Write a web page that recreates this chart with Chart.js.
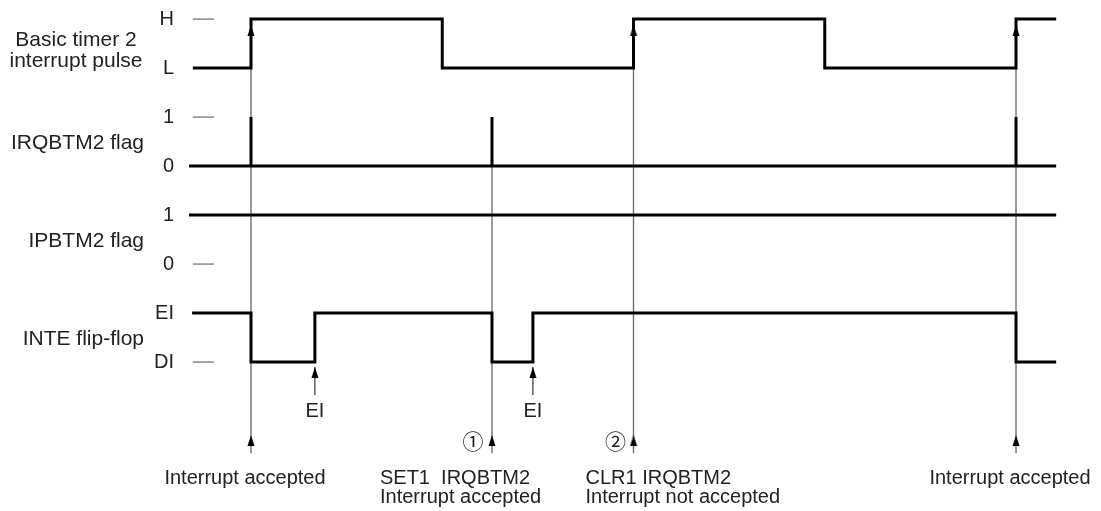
<!DOCTYPE html>
<html>
<head>
<meta charset="utf-8">
<script src="https://cdn.jsdelivr.net/npm/chart.js@4/dist/chart.umd.min.js"></script>
<style>
html, body { margin: 0; padding: 0; background: #fff; }
</style>
</head>
<body>
<canvas id="timing" width="1101" height="511"></canvas>
<script>
// time axis: one timer period = 10 units, t = 0 at the first accepted interrupt
var tStart = -1.52, tEnd = 21.05;

// Basic timer 2 interrupt pulse (0 = L, 1 = H)
var pulseT = [tStart, 0, 5, 10, 15, 20, tEnd];
var pulseV = [0, 1, 0, 1, 0, 1, 1];
// IRQBTM2 flag
var irqT = [-1.62, 0, 0, 6.3, 6.3, 20, 20, tEnd];
var irqV = [0, 1, 0, 1, 0, 1, 0, 0];
// IPBTM2 flag
var ipT = [-1.62, tEnd];
var ipV = [1, 1];
// INTE flip-flop (1 = EI, 0 = DI)
var inteT = [-1.54, 0, 1.67, 6.3, 7.37, 20, tEnd];
var inteV = [1, 0, 1, 0, 1, 0, 0];

// guide lines down to the notes, and EI instruction points
var guideT = [0, 6.3, 10, 20];
var guideTop = [10, 8, 10, 10];
var guideHead = [true, false, true, true];
var eiT = [1.67, 7.37];

// rows of the diagram
var rowNames = [['Basic timer 2', 'interrupt pulse'], ['IRQBTM2 flag'], ['IPBTM2 flag'], ['INTE flip-flop']];
var rowLow = [9, 7, 5, 3];
var hiLabels = ['H', '1', '1', 'EI'];
var loLabels = ['L', '0', '0', 'DI'];
var dashLevels = [10, 8, 5, 3];

var notes = [
  {t: 0, lines: ['Interrupt accepted'], align: 'center'},
  {t: 6.3, lines: ['SET1  IRQBTM2', 'Interrupt accepted'], align: 'right'},
  {t: 10, lines: ['CLR1 IRQBTM2', 'Interrupt not accepted'], align: 'left'},
  {t: 20, lines: ['Interrupt accepted'], align: 'center'}
];

function pts(ts, vs, row) {
  return ts.map(function (t, k) { return {x: t, y: rowLow[row] + vs[k]}; });
}

// small up-arrow head, tip at the image centre
var head = document.createElement('canvas');
head.width = 8; head.height = 24;
(function () {
  var c = head.getContext('2d');
  c.fillStyle = '#000';
  c.beginPath();
  c.moveTo(4, 12); c.lineTo(7.5, 23); c.lineTo(0.5, 23);
  c.closePath(); c.fill();
})();

var datasets = [];
var sig = [[pulseT, pulseV], [irqT, irqV], [ipT, ipV], [inteT, inteV]];
sig.forEach(function (s, r) {
  datasets.push({data: pts(s[0], s[1], r), borderColor: '#000', borderWidth: 3,
    stepped: true, pointRadius: 0, borderJoinStyle: 'miter', order: 0});
});
dashLevels.forEach(function (lv) {
  datasets.push({data: [{x: tStart, y: lv}, {x: -0.97, y: lv}], borderColor: '#888',
    borderWidth: 1.5, pointRadius: 0, order: 1});
});
guideT.forEach(function (t, k) {
  var d = [{x: t, y: guideTop[k]}], r = [0];
  if (guideHead[k]) { d.push({x: t, y: 9.88}); r.push(1); }
  d.push({x: t, y: 1.51}, {x: t, y: 1.14}); r.push(1, 0);
  datasets.push({data: d, borderColor: '#666', borderWidth: 1.3, pointStyle: head,
    pointRadius: r, order: 2});
});
eiT.forEach(function (t) {
  datasets.push({data: [{x: t, y: 2.33}, {x: t, y: 2.9}], borderColor: '#444', borderWidth: 1.3,
    pointStyle: head, pointRadius: [0, 1], order: 2});
});

var font = '"Liberation Sans", Arial, sans-serif';
var labels = {
  id: 'labels',
  afterDraw: function (chart) {
    var ctx = chart.ctx, xs = chart.scales.x, ys = chart.scales.y;
    ctx.save();
    ctx.fillStyle = '#222';
    ctx.textBaseline = 'middle';
    rowNames.forEach(function (nm, r) {
      var mid = ys.getPixelForValue(rowLow[r] + 0.5);
      ctx.font = '21px ' + font;
      if (nm.length === 2) {
        ctx.textAlign = 'center';
        ctx.fillText(nm[0], 76, mid - 3);
        ctx.fillText(nm[1], 76, mid + 18);
      } else {
        ctx.textAlign = 'right';
        ctx.fillText(nm[0], 144, mid + 2);
      }
      ctx.textAlign = 'right';
      ctx.font = '20px ' + font;
      ctx.fillText(hiLabels[r], 174, ys.getPixelForValue(rowLow[r] + 1));
      ctx.fillText(loLabels[r], 174, ys.getPixelForValue(rowLow[r]));
    });
    ctx.font = '20px ' + font;
    ctx.textAlign = 'center';
    eiT.forEach(function (t) {
      ctx.fillText('EI', xs.getPixelForValue(t), 411);
    });
    notes.forEach(function (n) {
      var x = xs.getPixelForValue(n.t);
      n.lines.forEach(function (ln, k) {
        if (n.align === 'center') { ctx.textAlign = 'center'; ctx.fillText(ln, x - 6, 478 + k * 19); }
        else if (n.align === 'right') { ctx.textAlign = 'left'; ctx.fillText(ln, x - 112, 478 + k * 19); }
        else { ctx.textAlign = 'left'; ctx.fillText(ln, x - 48, 478 + k * 19); }
      });
    });
    // circled numbers next to the guide arrows
    ctx.font = '21px "Noto Sans CJK JP", "DejaVu Sans", sans-serif';
    ctx.textAlign = 'center';
    ctx.fillText('\u2460', xs.getPixelForValue(6.3) - 19, 441);
    ctx.fillText('\u2461', xs.getPixelForValue(10) - 18, 441);
    ctx.restore();
  }
};

new Chart(document.getElementById('timing').getContext('2d'), {
  type: 'scatter',
  data: {datasets: datasets},
  options: {
    responsive: false,
    animation: false,
    events: [],
    showLine: true,
    layout: {padding: 0, autoPadding: false},
    plugins: {legend: {display: false}, tooltip: {enabled: false}},
    scales: {
      x: {type: 'linear', display: false, min: -6.562, max: 22.222},
      y: {type: 'linear', display: false, min: -0.04, max: 10.39}
    }
  },
  plugins: [labels]
});
</script>
</body>
</html>
